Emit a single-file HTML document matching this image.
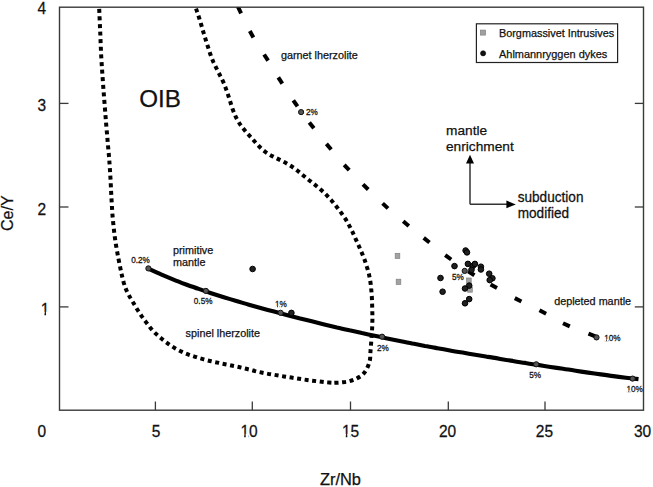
<!DOCTYPE html>
<html><head><meta charset="utf-8"><style>
html,body{margin:0;padding:0;background:#fff;overflow:hidden;}
svg{display:block;}
text{font-family:"Liberation Sans", sans-serif;fill:#111;stroke:#111;stroke-width:0.25px;}
</style></head><body>
<svg width="653" height="487" viewBox="0 0 653 487">
<defs><clipPath id="pc"><rect x="60" y="7.6" width="583" height="402"/></clipPath></defs>
<rect x="59.5" y="7.2" width="584" height="403" fill="none" stroke="#3a3a3a" stroke-width="1.4"/>
<line x1="155.4" y1="410" x2="155.4" y2="401.5" stroke="#3a3a3a" stroke-width="1.3"/>
<line x1="252.3" y1="410" x2="252.3" y2="401.5" stroke="#3a3a3a" stroke-width="1.3"/>
<line x1="350.5" y1="410" x2="350.5" y2="401.5" stroke="#3a3a3a" stroke-width="1.3"/>
<line x1="448.3" y1="410" x2="448.3" y2="401.5" stroke="#3a3a3a" stroke-width="1.3"/>
<line x1="545" y1="410" x2="545" y2="401.5" stroke="#3a3a3a" stroke-width="1.3"/>
<line x1="59.5" y1="103.4" x2="68.5" y2="103.4" stroke="#3a3a3a" stroke-width="1.3"/>
<line x1="643.5" y1="103.4" x2="634.8" y2="103.4" stroke="#3a3a3a" stroke-width="1.3"/>
<line x1="59.5" y1="207" x2="68.5" y2="207" stroke="#3a3a3a" stroke-width="1.3"/>
<line x1="643.5" y1="207" x2="634.8" y2="207" stroke="#3a3a3a" stroke-width="1.3"/>
<line x1="59.5" y1="306.9" x2="68.5" y2="306.9" stroke="#3a3a3a" stroke-width="1.3"/>
<line x1="643.5" y1="306.9" x2="634.8" y2="306.9" stroke="#3a3a3a" stroke-width="1.3"/>
<path d="M99.2,8.8 C99.4,12.6 99.8,23.6 100.2,31.4 C100.5,39.3 100.8,47.9 101.2,56.0 C101.7,64.1 102.2,72.2 102.8,80.0 C103.3,87.8 103.9,95.3 104.5,102.8 C105.1,110.2 105.6,117.5 106.2,124.5 C106.8,131.5 107.4,138.1 107.9,144.5 C108.5,150.9 109.1,157.1 109.5,163.1 C109.9,169.1 110.3,175.1 110.6,180.8 C110.9,186.5 111.1,191.9 111.4,197.2 C111.7,202.5 112.0,207.6 112.3,212.8 C112.7,218.0 113.2,223.1 113.8,228.3 C114.3,233.5 115.0,238.7 115.8,243.8 C116.6,248.8 117.6,254.1 118.5,258.8 C119.4,263.6 120.4,268.3 121.2,272.3 C122.1,276.3 122.9,279.6 123.7,282.6 C124.6,285.5 125.3,287.7 126.3,290.1 C127.3,292.4 128.4,294.3 129.5,296.4 C130.7,298.6 132.0,300.6 133.3,302.8 C134.6,305.0 135.9,307.3 137.3,309.5 C138.7,311.7 140.2,313.9 141.6,316.1 C143.1,318.2 144.6,320.3 146.2,322.4 C147.8,324.5 149.3,326.6 151.0,328.6 C152.7,330.5 154.4,332.4 156.3,334.1 C158.1,335.9 160.1,337.4 162.1,339.1 C164.1,340.7 166.1,342.2 168.3,343.8 C170.4,345.3 172.7,346.8 175.0,348.2 C177.3,349.5 179.7,350.8 182.1,351.9 C184.4,353.0 186.7,353.9 189.1,354.8 C191.5,355.7 194.0,356.4 196.4,357.2 C198.8,358.0 201.3,358.7 203.8,359.4 C206.3,360.1 208.8,360.7 211.2,361.3 C213.8,361.9 216.3,362.4 218.8,362.9 C221.3,363.5 223.9,364.0 226.4,364.5 C229.0,365.0 231.6,365.5 234.1,366.0 C236.7,366.6 239.3,367.1 241.8,367.7 C244.3,368.3 246.8,369.0 249.4,369.6 C251.9,370.2 254.3,370.9 256.8,371.5 C259.3,372.1 261.8,372.6 264.4,373.1 C267.0,373.6 269.6,374.1 272.2,374.5 C274.8,374.9 277.4,375.4 280.0,375.8 C282.6,376.2 285.1,376.6 287.7,377.0 C290.2,377.4 292.8,377.8 295.3,378.2 C297.9,378.6 300.5,379.0 303.0,379.4 C305.6,379.8 308.2,380.1 310.8,380.5 C313.3,380.8 315.9,381.1 318.5,381.4 C321.1,381.7 323.7,382.1 326.2,382.3 C328.8,382.5 332.7,382.7 334.0,382.8" fill="none" stroke="#000" stroke-width="4" stroke-dasharray="4 3.6"/>
<path d="M196.0,8.6 C196.2,9.2 196.7,10.4 197.2,12.0 C197.8,13.6 198.5,15.9 199.2,18.1 C199.9,20.4 200.7,23.1 201.5,25.6 C202.2,28.1 202.9,30.6 203.7,33.1 C204.4,35.6 205.2,38.1 206.0,40.6 C206.8,43.1 207.5,45.6 208.4,48.1 C209.2,50.6 209.9,53.1 210.8,55.5 C211.7,57.9 212.6,60.2 213.6,62.5 C214.7,64.8 215.8,67.1 217.0,69.4 C218.1,71.7 219.4,74.0 220.5,76.3 C221.7,78.6 222.8,81.0 223.9,83.4 C224.9,85.8 225.8,88.3 226.7,90.8 C227.6,93.2 228.3,95.8 229.2,98.2 C230.0,100.8 230.7,103.3 231.5,105.8 C232.3,108.2 233.2,110.8 234.2,113.1 C235.1,115.5 236.2,117.8 237.5,120.0 C238.7,122.2 240.0,124.3 241.5,126.3 C243.0,128.3 244.7,130.3 246.3,132.3 C248.0,134.2 249.8,136.1 251.6,138.0 C253.3,139.9 254.9,141.9 256.7,143.8 C258.5,145.7 260.3,147.7 262.3,149.4 C264.3,151.2 266.4,152.7 268.6,154.1 C270.8,155.5 273.1,156.5 275.4,157.7 C277.6,158.8 279.8,159.9 282.1,161.0 C284.3,162.2 286.4,163.3 288.6,164.6 C290.8,165.9 292.9,167.3 295.0,168.8 C297.1,170.3 299.1,172.0 301.1,173.7 C303.1,175.3 305.1,177.0 307.2,178.6 C309.2,180.3 311.3,181.9 313.4,183.5 C315.4,185.2 317.5,186.8 319.5,188.6 C321.5,190.3 323.5,192.1 325.4,193.9 C327.3,195.8 329.1,197.7 330.9,199.7 C332.6,201.7 334.3,203.8 336.0,205.9 C337.7,208.0 339.4,210.2 340.9,212.4 C342.5,214.6 344.1,216.9 345.6,219.2 C347.0,221.4 348.2,223.7 349.4,225.9 C350.6,228.0 351.6,230.1 352.6,232.2 C353.6,234.3 354.5,236.4 355.5,238.6 C356.5,240.7 357.5,242.9 358.5,245.2 C359.5,247.4 360.5,249.8 361.5,252.1 C362.5,254.5 363.5,256.9 364.4,259.3 C365.2,261.7 366.1,264.1 366.8,266.6 C367.6,269.0 368.3,271.4 368.9,273.9 C369.4,276.3 369.9,278.8 370.3,281.4 C370.7,283.9 371.0,286.4 371.2,288.9 C371.5,291.4 371.6,293.9 371.8,296.4 C371.9,299.0 372.1,301.5 372.1,304.0 C372.2,306.5 372.3,309.1 372.3,311.6 C372.4,314.1 372.4,316.7 372.4,319.2 C372.4,321.8 372.3,324.4 372.2,327.1 C372.1,329.8 371.9,332.5 371.7,335.4 C371.5,338.4 371.2,342.0 371.0,344.8 C370.8,347.6 370.6,349.9 370.4,352.4 C370.2,354.9 370.4,357.5 369.9,360.0 C369.4,362.5 368.6,365.0 367.5,367.4 C366.4,369.8 364.9,372.2 363.1,374.1 C361.3,376.0 358.9,377.3 356.6,378.5 C354.3,379.7 351.9,380.5 349.4,381.2 C346.9,381.9 344.3,382.1 341.7,382.4 C339.1,382.7 335.3,382.7 334.0,382.8" fill="none" stroke="#000" stroke-width="4" stroke-dasharray="4 3.6"/>
<line x1="237.9" y1="6.7" x2="241.1" y2="13.3" stroke="#000" stroke-width="4.0" clip-path="url(#pc)"/>
<line x1="249.8" y1="31.1" x2="253.4" y2="37.5" stroke="#000" stroke-width="4.0" clip-path="url(#pc)"/>
<line x1="264.1" y1="54.5" x2="268.1" y2="60.7" stroke="#000" stroke-width="4.0" clip-path="url(#pc)"/>
<line x1="278.3" y1="77.4" x2="282.3" y2="83.6" stroke="#000" stroke-width="4.0" clip-path="url(#pc)"/>
<line x1="293.3" y1="100.3" x2="297.5" y2="106.3" stroke="#000" stroke-width="4.0" clip-path="url(#pc)"/>
<line x1="309.3" y1="122.5" x2="313.9" y2="128.3" stroke="#000" stroke-width="4.0" clip-path="url(#pc)"/>
<line x1="326.4" y1="143.9" x2="331.2" y2="149.5" stroke="#000" stroke-width="4.0" clip-path="url(#pc)"/>
<line x1="344.2" y1="164.8" x2="349.2" y2="170.2" stroke="#000" stroke-width="4.0" clip-path="url(#pc)"/>
<line x1="363.0" y1="184.3" x2="368.2" y2="189.5" stroke="#000" stroke-width="4.0" clip-path="url(#pc)"/>
<line x1="382.6" y1="203.4" x2="388.0" y2="208.4" stroke="#000" stroke-width="4.0" clip-path="url(#pc)"/>
<line x1="403.2" y1="221.3" x2="408.8" y2="226.1" stroke="#000" stroke-width="4.0" clip-path="url(#pc)"/>
<line x1="423.7" y1="237.9" x2="429.5" y2="242.5" stroke="#000" stroke-width="4.0" clip-path="url(#pc)"/>
<line x1="445.2" y1="255.1" x2="451.2" y2="259.5" stroke="#000" stroke-width="4.0" clip-path="url(#pc)"/>
<line x1="468.2" y1="271.2" x2="474.4" y2="275.2" stroke="#000" stroke-width="4.0" clip-path="url(#pc)"/>
<line x1="490.6" y1="284.5" x2="497.0" y2="288.1" stroke="#000" stroke-width="4.0" clip-path="url(#pc)"/>
<line x1="514.8" y1="298.1" x2="521.4" y2="301.5" stroke="#000" stroke-width="4.0" clip-path="url(#pc)"/>
<line x1="539.5" y1="310.3" x2="546.1" y2="313.7" stroke="#000" stroke-width="4.0" clip-path="url(#pc)"/>
<line x1="563.0" y1="323.2" x2="569.8" y2="326.4" stroke="#000" stroke-width="4.0" clip-path="url(#pc)"/>
<line x1="588.5" y1="333.6" x2="595.3" y2="336.4" stroke="#000" stroke-width="4.0" clip-path="url(#pc)"/>
<path d="M148.4,268.7 C150.5,269.6 156.8,272.6 161.0,274.4 C165.2,276.2 169.3,277.9 173.5,279.6 C177.7,281.3 181.9,282.9 186.1,284.5 C190.3,286.0 194.5,287.5 198.7,288.9 C202.9,290.4 207.0,291.8 211.2,293.2 C215.4,294.5 219.6,295.9 223.8,297.2 C228.0,298.5 232.2,299.7 236.4,301.0 C240.6,302.2 244.7,303.5 248.9,304.7 C253.1,305.9 257.3,307.0 261.5,308.2 C265.7,309.3 269.9,310.5 274.1,311.6 C278.3,312.7 282.4,313.8 286.6,314.9 C290.8,316.0 295.0,317.1 299.2,318.2 C303.4,319.2 307.6,320.3 311.8,321.3 C316.0,322.4 320.1,323.4 324.3,324.4 C328.5,325.4 332.7,326.4 336.9,327.4 C341.1,328.3 345.3,329.3 349.5,330.3 C353.7,331.2 357.8,332.1 362.0,333.1 C366.2,334.0 370.4,334.9 374.6,335.8 C378.8,336.7 383.0,337.6 387.2,338.4 C391.4,339.3 395.5,340.1 399.7,341.0 C403.9,341.8 408.1,342.6 412.3,343.5 C416.5,344.3 420.7,345.1 424.9,345.9 C429.1,346.6 433.2,347.4 437.4,348.2 C441.6,348.9 445.8,349.7 450.0,350.4 C454.2,351.2 458.4,351.9 462.6,352.6 C466.8,353.3 470.9,354.1 475.1,354.8 C479.3,355.5 483.5,356.2 487.7,356.9 C491.9,357.5 496.1,358.2 500.3,358.9 C504.5,359.6 508.6,360.3 512.8,360.9 C517.0,361.6 521.2,362.3 525.4,362.9 C529.6,363.6 533.8,364.3 538.0,364.9 C542.2,365.6 546.3,366.2 550.5,366.9 C554.7,367.5 558.9,368.2 563.1,368.8 C567.3,369.5 571.5,370.1 575.7,370.7 C579.9,371.4 584.0,372.0 588.2,372.6 C592.4,373.2 596.6,373.8 600.8,374.4 C605.0,375.0 609.2,375.6 613.4,376.1 C617.6,376.7 621.7,377.2 625.9,377.7 C630.1,378.2 636.4,378.9 638.5,379.1" fill="none" stroke="#000" stroke-width="4.1"/>
<circle cx="148.4" cy="268.4" r="2.6" fill="#555" stroke="#111" stroke-width="1"/>
<circle cx="205.9" cy="290.9" r="2.6" fill="#555" stroke="#111" stroke-width="1"/>
<circle cx="280.6" cy="312.8" r="2.6" fill="#555" stroke="#111" stroke-width="1"/>
<circle cx="382.1" cy="336.7" r="2.6" fill="#555" stroke="#111" stroke-width="1"/>
<circle cx="536.2" cy="364.3" r="2.6" fill="#555" stroke="#111" stroke-width="1"/>
<circle cx="632.6" cy="378.6" r="2.6" fill="#555" stroke="#111" stroke-width="1"/>
<circle cx="301.1" cy="112.1" r="2.6" fill="#555" stroke="#111" stroke-width="1"/>
<circle cx="464.7" cy="270.9" r="2.6" fill="#555" stroke="#111" stroke-width="1"/>
<circle cx="596.5" cy="337.4" r="2.6" fill="#555" stroke="#111" stroke-width="1"/>
<rect x="395.2" y="253.3" width="4.6" height="5.2" fill="#a2a2a2" stroke="#808080" stroke-width="0.7"/>
<rect x="396.2" y="279.2" width="4.6" height="5.2" fill="#a2a2a2" stroke="#808080" stroke-width="0.7"/>
<rect x="466.6" y="278.0" width="4.6" height="5.2" fill="#a2a2a2" stroke="#808080" stroke-width="0.7"/>
<rect x="467.7" y="287.0" width="4.6" height="5.2" fill="#a2a2a2" stroke="#808080" stroke-width="0.7"/>
<circle cx="252.6" cy="269" r="2.8" fill="#202020" stroke="#000" stroke-width="1"/>
<circle cx="291.4" cy="312.9" r="2.8" fill="#202020" stroke="#000" stroke-width="1"/>
<circle cx="465.6" cy="250.5" r="2.8" fill="#202020" stroke="#000" stroke-width="1"/>
<circle cx="467" cy="252.4" r="2.8" fill="#202020" stroke="#000" stroke-width="1"/>
<circle cx="454.5" cy="266.1" r="2.8" fill="#202020" stroke="#000" stroke-width="1"/>
<circle cx="440.5" cy="278" r="2.8" fill="#202020" stroke="#000" stroke-width="1"/>
<circle cx="442.6" cy="291.7" r="2.8" fill="#202020" stroke="#000" stroke-width="1"/>
<circle cx="467.9" cy="263.9" r="2.8" fill="#202020" stroke="#000" stroke-width="1"/>
<circle cx="473" cy="265.8" r="2.8" fill="#202020" stroke="#000" stroke-width="1"/>
<circle cx="474.9" cy="263.9" r="2.8" fill="#202020" stroke="#000" stroke-width="1"/>
<circle cx="480.9" cy="266.7" r="2.8" fill="#202020" stroke="#000" stroke-width="1"/>
<circle cx="480.9" cy="269.5" r="2.8" fill="#202020" stroke="#000" stroke-width="1"/>
<circle cx="471.5" cy="269.8" r="2.8" fill="#202020" stroke="#000" stroke-width="1"/>
<circle cx="489.2" cy="273.7" r="2.8" fill="#202020" stroke="#000" stroke-width="1"/>
<circle cx="492.4" cy="278.3" r="2.8" fill="#202020" stroke="#000" stroke-width="1"/>
<circle cx="489.7" cy="280.1" r="2.8" fill="#202020" stroke="#000" stroke-width="1"/>
<circle cx="469.2" cy="285.6" r="2.8" fill="#202020" stroke="#000" stroke-width="1"/>
<circle cx="465" cy="288.5" r="2.8" fill="#202020" stroke="#000" stroke-width="1"/>
<circle cx="469.2" cy="299.1" r="2.8" fill="#202020" stroke="#000" stroke-width="1"/>
<circle cx="465" cy="303.3" r="2.8" fill="#202020" stroke="#000" stroke-width="1"/>
<line x1="470" y1="204.2" x2="470" y2="162" stroke="#333" stroke-width="1.5"/>
<polygon points="470,154.7 466,163.6 474,163.6" fill="#000"/>
<line x1="470" y1="204.2" x2="507" y2="204.2" stroke="#333" stroke-width="1.5"/>
<polygon points="515.8,204.4 506.4,200.6 506.4,208.2" fill="#000"/>
<rect x="476.4" y="23.8" width="141.2" height="38.7" fill="#fff" stroke="#222" stroke-width="1.2"/>
<rect x="480.5" y="30.1" width="5" height="5" fill="#a0a0a0" stroke="#808080" stroke-width="0.7"/>
<circle cx="483.1" cy="53.3" r="2.6" fill="#111" stroke="#000" stroke-width="0.5"/>
<g transform="translate(499 37.2)"><text x="0" y="0" font-size="10.85" text-anchor="start" >Borgmassivet Intrusives</text></g>
<g transform="translate(499 57.7)"><text x="0" y="0" font-size="10.95" text-anchor="start" >Ahlmannryggen dykes</text></g>
<g transform="translate(46.2 13.5) scale(1 1.12)"><text x="0" y="0" font-size="15.5" text-anchor="end" >4</text></g>
<g transform="translate(46.2 110.8) scale(1 1.12)"><text x="0" y="0" font-size="15.5" text-anchor="end" >3</text></g>
<g transform="translate(46.2 214.9) scale(1 1.12)"><text x="0" y="0" font-size="15.5" text-anchor="end" >2</text></g>
<g transform="translate(49.3 314.6) scale(1 1.12)"><text x="0" y="0" font-size="15.5" text-anchor="end" >1</text><rect x="-8.32" y="-2.50" width="3.50" height="4.01" fill="#fff"/><rect x="-3.26" y="-2.50" width="3.72" height="4.01" fill="#fff"/></g>
<g transform="translate(41.7 436.7) scale(1 1.1)"><text x="0" y="0" font-size="15.5" text-anchor="middle" >0</text></g>
<g transform="translate(156 436.7) scale(1 1.1)"><text x="0" y="0" font-size="15.5" text-anchor="middle" >5</text></g>
<g transform="translate(249 436.7) scale(1 1.1)"><text x="0" y="0" font-size="15.5" text-anchor="middle" >10</text><rect x="-8.32" y="-2.50" width="3.50" height="4.01" fill="#fff"/><rect x="-3.26" y="-2.50" width="2.78" height="4.01" fill="#fff"/></g>
<g transform="translate(350.6 436.7) scale(1 1.1)"><text x="0" y="0" font-size="15.5" text-anchor="middle" >15</text><rect x="-8.32" y="-2.50" width="3.50" height="4.01" fill="#fff"/><rect x="-3.26" y="-2.50" width="2.78" height="4.01" fill="#fff"/></g>
<g transform="translate(447.5 436.7) scale(1 1.1)"><text x="0" y="0" font-size="15.5" text-anchor="middle" >20</text></g>
<g transform="translate(544.4 436.7) scale(1 1.1)"><text x="0" y="0" font-size="15.5" text-anchor="middle" >25</text></g>
<g transform="translate(642.5 436.7) scale(1 1.1)"><text x="0" y="0" font-size="15.5" text-anchor="middle" >30</text></g>
<g transform="translate(340.4 484.7)"><text x="0" y="0" font-size="16.4" text-anchor="middle" >Zr/Nb</text></g>
<text x="0" y="0" font-size="16.1" text-anchor="middle" transform="translate(13.4 213.2) rotate(-90)">Ce/Y</text>
<g transform="translate(139.2 107.2)"><text x="0" y="0" font-size="24.2" text-anchor="start" >OIB</text></g>
<g transform="translate(281 58.9)"><text x="0" y="0" font-size="10.8" text-anchor="start" >garnet lherzolite</text></g>
<g transform="translate(446 135.1)"><text x="0" y="0" font-size="13.7" text-anchor="start" >mantle</text></g>
<g transform="translate(446 151.0)"><text x="0" y="0" font-size="13.7" text-anchor="start" >enrichment</text></g>
<g transform="translate(517.7 202.4) scale(1 1.07)"><text x="0" y="0" font-size="13.6" text-anchor="start" >subduction</text></g>
<g transform="translate(517.7 217.6) scale(1 1.07)"><text x="0" y="0" font-size="13.6" text-anchor="start" >modified</text></g>
<g transform="translate(173 253.5)"><text x="0" y="0" font-size="10.8" text-anchor="start" >primitive</text></g>
<g transform="translate(173 265.7)"><text x="0" y="0" font-size="10.8" text-anchor="start" >mantle</text></g>
<g transform="translate(185.6 336.8)"><text x="0" y="0" font-size="10.8" text-anchor="start" >spinel lherzolite</text></g>
<g transform="translate(554.2 304.7)"><text x="0" y="0" font-size="10.8" text-anchor="start" >depleted mantle</text></g>
<g transform="translate(131.2 262.8) scale(1 1.1)"><text x="0" y="0" font-size="8.2" text-anchor="start" >0.2%</text></g>
<g transform="translate(193.8 303.9) scale(1 1.1)"><text x="0" y="0" font-size="8.2" text-anchor="start" >0.5%</text></g>
<g transform="translate(275 307.3) scale(1 1.1)"><text x="0" y="0" font-size="8.2" text-anchor="start" >1%</text><rect x="0.16" y="-1.32" width="1.85" height="2.12" fill="#fff"/><rect x="2.83" y="-1.32" width="1.47" height="2.12" fill="#fff"/></g>
<g transform="translate(306 115.2) scale(1 1.1)"><text x="0" y="0" font-size="8.2" text-anchor="start" >2%</text></g>
<g transform="translate(377 350.8) scale(1 1.1)"><text x="0" y="0" font-size="8.2" text-anchor="start" >2%</text></g>
<g transform="translate(452 279.7) scale(1 1.1)"><text x="0" y="0" font-size="8.2" text-anchor="start" >5%</text></g>
<g transform="translate(529.2 378) scale(1 1.1)"><text x="0" y="0" font-size="8.2" text-anchor="start" >5%</text></g>
<g transform="translate(604.2 340.6) scale(1 1.1)"><text x="0" y="0" font-size="8.2" text-anchor="start" >10%</text><rect x="0.16" y="-1.32" width="1.85" height="2.12" fill="#fff"/><rect x="2.83" y="-1.32" width="1.47" height="2.12" fill="#fff"/></g>
<g transform="translate(626.4 391.8) scale(1 1.1)"><text x="0" y="0" font-size="8.2" text-anchor="start" >10%</text><rect x="0.16" y="-1.32" width="1.85" height="2.12" fill="#fff"/><rect x="2.83" y="-1.32" width="1.47" height="2.12" fill="#fff"/></g>
</svg>
</body></html>
